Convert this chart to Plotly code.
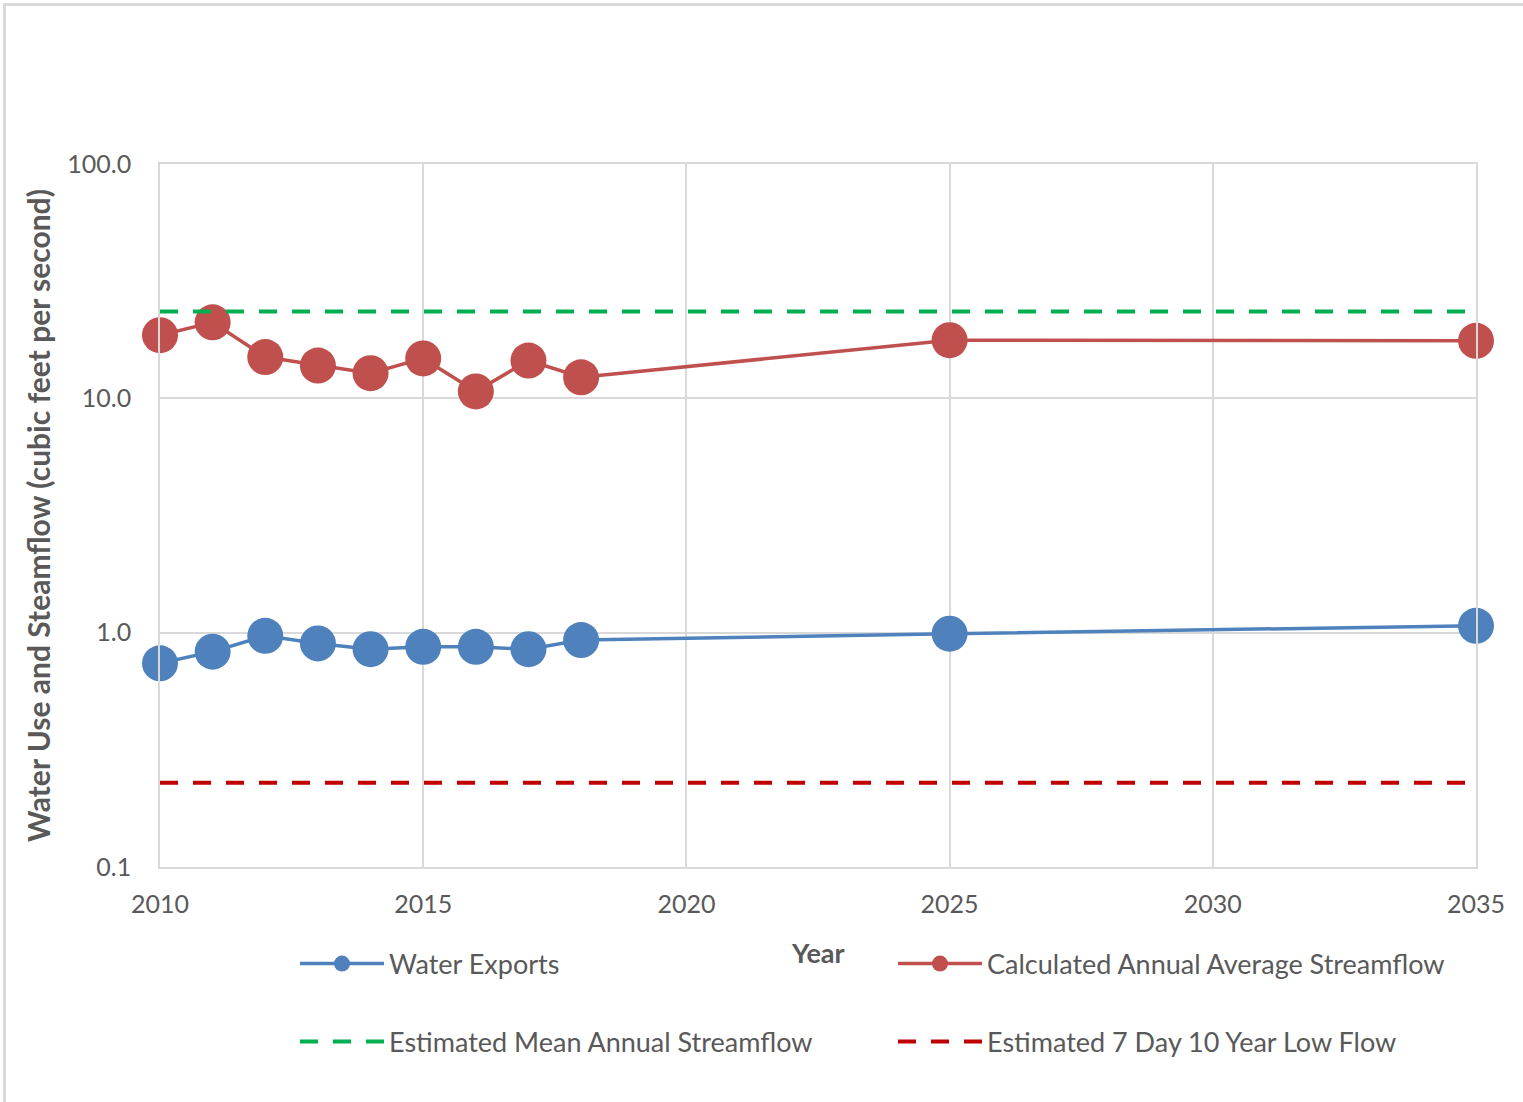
import plotly.graph_objects as go

years = [2010, 2011, 2012, 2013, 2014, 2015, 2016, 2017, 2018, 2025, 2035]
water_exports = [0.74, 0.83, 0.97, 0.90, 0.85, 0.87, 0.87, 0.85, 0.93, 0.99, 1.07]
calc_streamflow = [18.6, 21.1, 15.0, 13.8, 12.8, 14.8, 10.7, 14.5, 12.3, 17.7, 17.6]
mean_years = [2010, 2035]
mean_annual = [23.5, 23.5]
low_flow = [0.229, 0.229]

y_tickvals = [0.1, 1, 10, 100]
y_ticktext = ["0.1", "1.0", "10.0", "100.0"]
x_tickvals = [2010, 2015, 2020, 2025, 2030, 2035]

FONT = "Lato"
TXT = "#595959"
GRID = "#D9D9D9"

W, H = 1523, 1102
L, R, T, B = 160, 47, 164, 235
pw, ph = W - L - R, H - T - B

def px_x(p):
    return (p - L) / pw

def px_y(p):
    return (H - B - p) / ph

fig = go.Figure()
fig.add_trace(go.Scatter(x=years, y=water_exports, name="Water Exports", mode="lines+markers",
                         line=dict(color="#4F81BD", width=3.5), marker=dict(size=36, color="#4F81BD"),
                         legend="legend", cliponaxis=False))
fig.add_trace(go.Scatter(x=years, y=calc_streamflow, name="Calculated Annual Average Streamflow",
                         mode="lines+markers", line=dict(color="#C0504D", width=3.5),
                         marker=dict(size=36, color="#C0504D"), legend="legend2", cliponaxis=False))
fig.add_trace(go.Scatter(x=mean_years, y=mean_annual, name="Estimated Mean Annual Streamflow", mode="lines",
                         line=dict(color="#00B050", width=4, dash="18px,15px"), legend="legend3"))
fig.add_trace(go.Scatter(x=mean_years, y=low_flow, name="Estimated 7 Day 10 Year Low Flow", mode="lines",
                         line=dict(color="#C00000", width=4, dash="18px,15px"), legend="legend4"))

def leg(xp, yp):
    return dict(x=px_x(xp), y=px_y(yp), orientation="h", xanchor="left", yanchor="middle",
                font=dict(family=FONT, size=27, color=TXT), bgcolor="rgba(0,0,0,0)",
                itemwidth=84, borderwidth=0)

fig.update_layout(
    width=W, height=H,
    margin=dict(l=L, r=R, t=T, b=B, autoexpand=False),
    paper_bgcolor="white", plot_bgcolor="white",
    font=dict(family=FONT, size=25, color=TXT),
    showlegend=True,
    legend=leg(295, 964),
    legend2=leg(893, 964),
    legend3=leg(295, 1042),
    legend4=leg(893, 1042),
    xaxis=dict(range=[2010, 2035], tickvals=x_tickvals, showgrid=True, gridcolor=GRID, gridwidth=1.5,
               showline=True, linecolor=GRID, linewidth=1.5, mirror=True, zeroline=False,
               tickfont=dict(family=FONT, size=25, color=TXT), ticklabelstandoff=14),
    yaxis=dict(type="log", range=[-1, 2], tickvals=y_tickvals, ticktext=y_ticktext,
               showgrid=True, gridcolor=GRID, gridwidth=1.5,
               showline=True, linecolor=GRID, linewidth=1.5, mirror=True, zeroline=False,
               tickfont=dict(family=FONT, size=25, color=TXT), ticklabelstandoff=22,
               title=dict(text="Water Use and Steamflow (cubic feet per second)",
                          font=dict(family=FONT, size=30, color=TXT, weight="bold"), standoff=8)),
    annotations=[dict(text="Year", x=px_x(818), y=px_y(952), xref="paper", yref="paper",
                      showarrow=False, font=dict(family=FONT, size=27, color=TXT, weight="bold"),
                      xanchor="center", yanchor="middle")],
    shapes=[dict(type="rect", xref="paper", yref="paper",
                 x0=px_x(4.5), x1=px_x(1540), y0=px_y(1120), y1=px_y(4.5),
                 line=dict(color="#D9D9D9", width=3), layer="below")],
)

fig.write_html("out.html", config={"displayModeBar": False},
               post_script="document.body.style.margin='0';document.body.style.overflow='hidden';")
